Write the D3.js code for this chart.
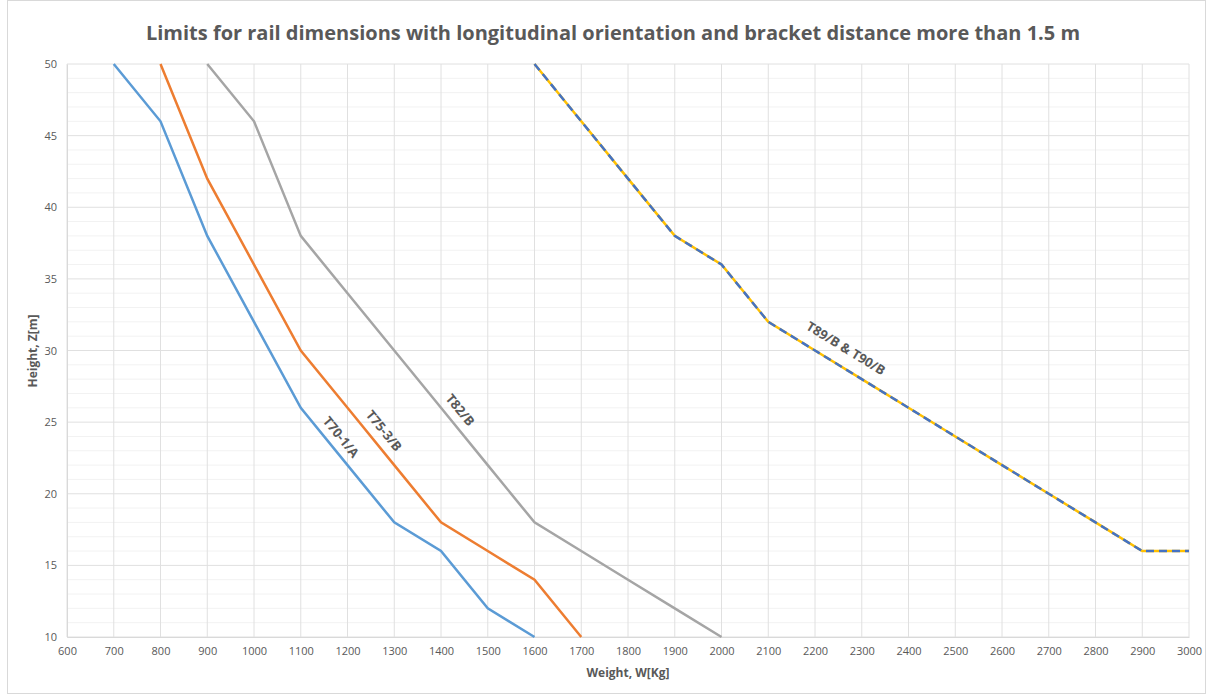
<!DOCTYPE html>
<html><head><meta charset="utf-8">
<script src="https://cdn.jsdelivr.net/npm/d3@7"></script>
<style>body{margin:0;background:#fff;}svg{display:block;}text{font-family:"Open Sans",sans-serif;}</style>
</head><body><svg id="c" width="1213" height="695"></svg>
<script>
const titleText = "Limits for rail dimensions with longitudinal orientation and bracket distance more than 1.5 m";
const xTicks = [600,700,800,900,1000,1100,1200,1300,1400,1500,1600,1700,1800,1900,2000,2100,2200,2300,2400,2500,2600,2700,2800,2900,3000];
const yTicks = [10,15,20,25,30,35,40,45,50];
const t70W = [700,800,900,1000,1100,1200,1300,1400,1500,1600];
const t70Z = [50,46,38,32,26,22,18,16,12,10];
const t75W = [800,900,1000,1100,1200,1300,1400,1500,1600,1700];
const t75Z = [50,42,36,30,26,22,18,16,14,10];
const t82W = [900,1000,1100,1200,1300,1400,1500,1600,1700,1800,1900,2000];
const t82Z = [50,46,38,34,30,26,22,18,16,14,12,10];
const t89W = [1600,1700,1800,1900,2000,2100,2200,2300,2400,2500,2600,2700,2800,2900,3000];
const t89Z = [50,46,42,38,36,32,30,28,26,24,22,20,18,16,16];
const labelNames = ["T70-1/A","T75-3/B","T82/B","T89/B & T90/B"];
const labelW = [1186,1278,1441,2266];
const labelZ = [23.96,24.4,25.85,30.15];

const svg = d3.select("#c");
const m = {l:67, r:1189, t:64, b:637};
const x = d3.scaleLinear().domain([600,3000]).range([m.l,m.r]);
const y = d3.scaleLinear().domain([10,50]).range([m.b,m.t]);

svg.append("rect").attr("x",7.5).attr("y",0.5).attr("width",1198).attr("height",693).attr("fill","#fff").attr("stroke","#d9d9d9");

// minor grid
svg.append("g").selectAll("line").data(d3.range(10,51,1).filter(v=>v%5!==0)).join("line")
  .attr("x1",m.l).attr("x2",m.r).attr("y1",d=>y(d)).attr("y2",d=>y(d)).attr("stroke","#f2f2f2").attr("stroke-width",1);
// major grid
svg.append("g").selectAll("line").data(yTicks).join("line")
  .attr("x1",m.l).attr("x2",m.r).attr("y1",d=>y(d)).attr("y2",d=>y(d)).attr("stroke","#e0e0e0").attr("stroke-width",1);
svg.append("g").selectAll("line").data(xTicks).join("line")
  .attr("y1",m.t).attr("y2",m.b).attr("x1",d=>x(d)).attr("x2",d=>x(d)).attr("stroke","#e0e0e0").attr("stroke-width",1);

// axes
const xa = svg.append("g").attr("transform",`translate(0,${m.b})`).call(d3.axisBottom(x).tickValues(xTicks).tickFormat(d3.format("d")).tickSize(0).tickPadding(10));
const ya = svg.append("g").attr("transform",`translate(${m.l},0)`).call(d3.axisLeft(y).tickValues(yTicks).tickFormat(d3.format("d")).tickSize(0).tickPadding(10));
[xa,ya].forEach(a=>{a.select(".domain").attr("stroke","#d9d9d9");a.selectAll("text").attr("fill","#595959").style("font-size","11px").style("font-family","'Open Sans',sans-serif");});

const line = d3.line().x(d=>x(d[0])).y(d=>y(d[1]));
const zip=(a,b)=>a.map((v,i)=>[v,b[i]]);
svg.append("path").datum(zip(t70W,t70Z)).attr("d",line).attr("fill","none").attr("stroke","#5B9BD5").attr("stroke-width",2.5);
svg.append("path").datum(zip(t75W,t75Z)).attr("d",line).attr("fill","none").attr("stroke","#ED7D31").attr("stroke-width",2.5);
svg.append("path").datum(zip(t82W,t82Z)).attr("d",line).attr("fill","none").attr("stroke","#A5A5A5").attr("stroke-width",2.5);
svg.append("path").datum(zip(t89W,t89Z)).attr("d",line).attr("fill","none").attr("stroke","#FFC000").attr("stroke-width",2.5);
svg.append("path").datum(zip(t89W,t89Z)).attr("d",line).attr("fill","none").attr("stroke","#4472C4").attr("stroke-width",2.5).attr("stroke-dasharray","8,5");

// labels
const angles = [50.8,50.8,50.8,31.5];
labelNames.forEach((n,i)=>{
  svg.append("text").attr("transform",`translate(${x(labelW[i])},${y(labelZ[i])}) rotate(${angles[i]})`)
    .attr("text-anchor","middle").attr("dy","0.35em").attr("fill","#595959").style("font-size","13px").style("font-weight","bold").text(n);
});

svg.append("text").attr("x",613).attr("y",40).attr("text-anchor","middle").attr("fill","#595959").style("font-size","20px").style("font-weight","bold").text(titleText);
svg.append("text").attr("x",628).attr("y",677).attr("text-anchor","middle").attr("fill","#595959").style("font-size","12px").style("font-weight","bold").text("Weight, W[Kg]");
svg.append("text").attr("transform","translate(37,351) rotate(-90)").attr("text-anchor","middle").attr("fill","#595959").style("font-size","12px").style("font-weight","bold").text("Height, Z[m]");
</script></body></html>
